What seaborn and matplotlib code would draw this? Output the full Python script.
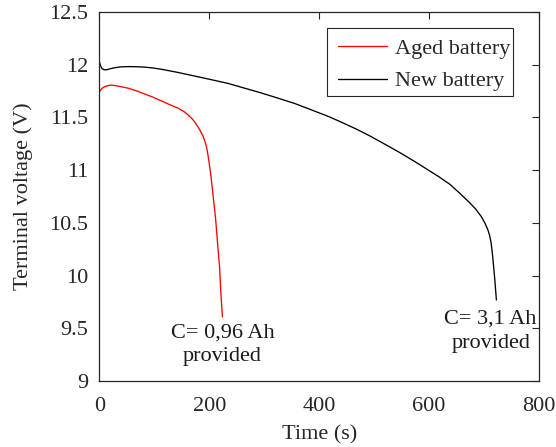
import matplotlib
matplotlib.use("Agg")
import matplotlib.pyplot as plt
from matplotlib.patches import Rectangle
import seaborn as sns
import pandas as pd

# Discharge curves (time in s, terminal voltage in V)
aged_time = [0, 1, 5, 10, 16, 22.5, 35, 53, 68, 83, 98, 113, 128, 144, 154, 162, 170, 177, 183,
             189, 192, 195, 197.5, 199.5, 203, 207, 211.6, 215, 219, 221, 224]
aged_volt = [11.735, 11.75, 11.775, 11.79, 11.80, 11.805, 11.795, 11.775, 11.75, 11.72, 11.69, 11.655,
             11.62, 11.585, 11.555, 11.52, 11.48, 11.43, 11.38, 11.32, 11.275, 11.22, 11.15, 11.08,
             10.95, 10.76, 10.54, 10.32, 10.07, 9.85, 9.61]

new_time = [0, 1, 3, 5, 9, 13, 20, 28.5, 40, 53, 68, 83, 98, 113, 143, 174, 205, 235, 265, 295,
            326, 356, 386, 416, 440, 465, 490, 511, 530, 547, 560, 571, 583, 595, 617, 638, 656,
            674, 685, 695, 701, 707, 710, 713, 716, 719.5, 722.5]
new_volt = [12.03, 12.01, 11.98, 11.96, 11.95, 11.95, 11.96, 11.97, 11.978, 11.98, 11.979, 11.975,
            11.967, 11.955, 11.925, 11.89, 11.855, 11.82, 11.775, 11.73, 11.68, 11.63, 11.57, 11.51,
            11.455, 11.395, 11.33, 11.27, 11.215, 11.165, 11.125, 11.09, 11.052, 11.012, 10.94, 10.865,
            10.78, 10.69, 10.63, 10.56, 10.505, 10.435, 10.385, 10.31, 10.17, 9.97, 9.77]

series_names = ["Aged battery", "New battery"]
series_colors = ["#ff0000", "#000000"]

x_ticks = [0, 200, 400, 600, 800]
y_ticks = [9, 9.5, 10, 10.5, 11, 11.5, 12, 12.5]
y_tick_labels = ["9", "9.5", "10", "10.5", "11", "11.5", "12", "12.5"]

aged_note = "C= 0,96 Ah\nprovided"
new_note = "C= 3,1 Ah\nprovided"

FS = 16
INK = "#262626"

sns.set_theme(style="white")
plt.rcParams["font.family"] = ["Liberation Serif", "DejaVu Serif"]

df = pd.concat([
    pd.DataFrame({"t": aged_time, "v": aged_volt, "series": series_names[0]}),
    pd.DataFrame({"t": new_time, "v": new_volt, "series": series_names[1]}),
], ignore_index=True)

fig = plt.figure(figsize=(5.56, 4.47), dpi=100)
ax = fig.add_axes([0.1786, 0.147, 0.7908, 0.8268])

sns.lineplot(data=df, x="t", y="v", hue="series", hue_order=series_names,
             palette=series_colors, estimator=None, sort=False,
             linewidth=0.95, ax=ax)

ax.set_xlim(0, 800)
ax.set_ylim(9, 12.5)
ax.set_xticks(x_ticks)
ax.set_yticks(y_ticks)
ax.set_yticklabels(y_tick_labels)
ax.set_xlabel("Time (s)", fontsize=FS, color=INK, labelpad=7)
ax.set_ylabel("Terminal voltage (V)", fontsize=FS, color=INK, labelpad=12)

ax.tick_params(axis="both", which="both", direction="in", length=5, width=0.8,
               top=True, right=True, labelsize=FS, labelcolor=INK, colors=INK)
ax.tick_params(axis="x", pad=11)
ax.tick_params(axis="y", pad=8)
for s in ax.spines.values():
    s.set_visible(True)
    s.set_color(INK)
    s.set_linewidth(0.9)

# Legend entries without their own frame; a square box is drawn around them
leg = ax.legend(loc="upper left", bbox_to_anchor=(0.543, 0.929),
                fontsize=FS, frameon=False, handlelength=2.2,
                handletextpad=0.38, borderpad=0, labelspacing=0.55,
                borderaxespad=0)
leg.set_title(None)
ax.add_patch(Rectangle((0.518, 0.772), 0.423, 0.184, transform=ax.transAxes,
                       fill=True, facecolor="white", edgecolor=INK,
                       linewidth=0.8, zorder=4))
leg.set_zorder(5)

ax.text(224, 9.55, aged_note, ha="center", va="top", fontsize=FS,
        color="#1a1a1a", linespacing=1.35)
ax.text(712, 9.675, new_note, ha="center", va="top", fontsize=FS,
        color="#1a1a1a", linespacing=1.35)

fig.savefig("out.png", dpi=100)
